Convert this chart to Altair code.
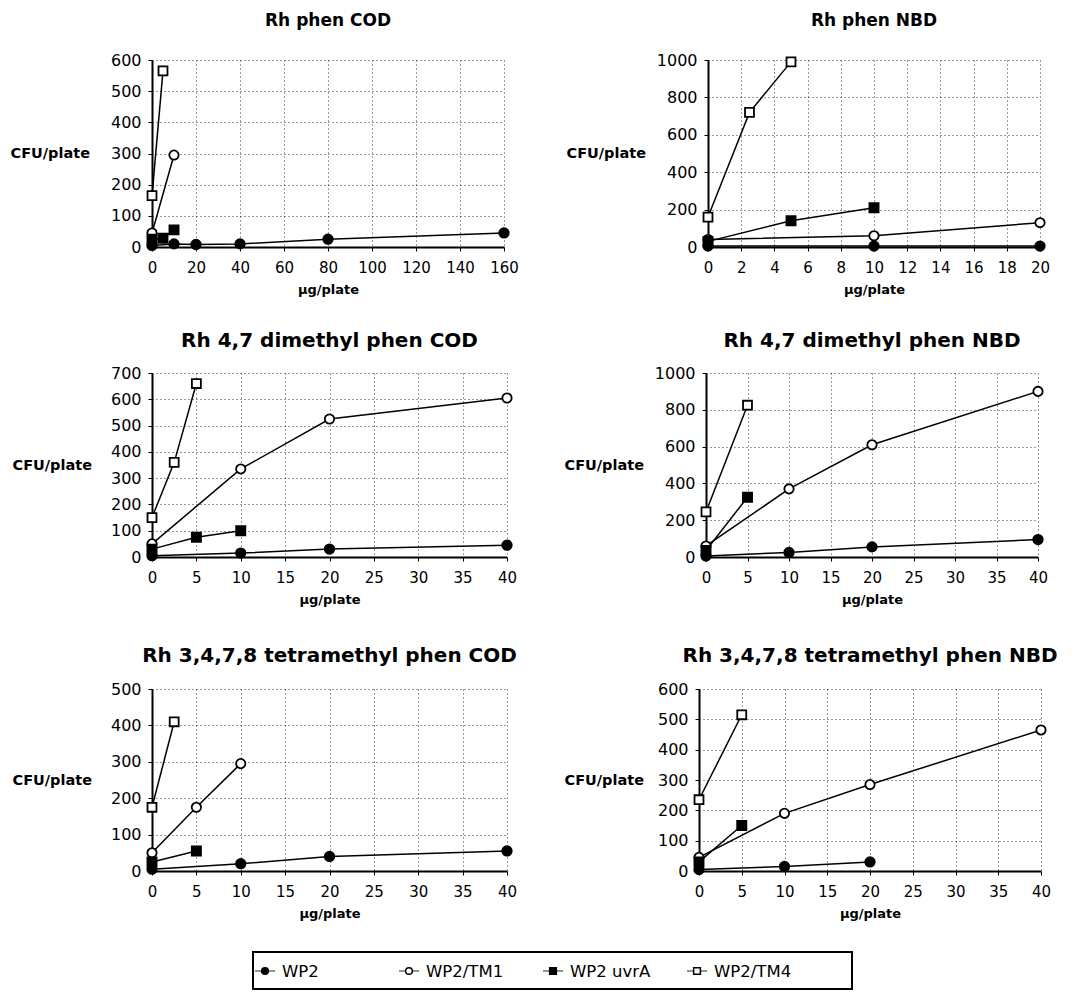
import altair as alt
import pandas as pd

strains = ["WP2", "WP2/TM1", "WP2 uvrA", "WP2/TM4"]
titles = [
    "Rh phen COD",
    "Rh phen NBD",
    "Rh 4,7 dimethyl phen COD",
    "Rh 4,7 dimethyl phen NBD",
    "Rh 3,4,7,8 tetramethyl phen COD",
    "Rh 3,4,7,8 tetramethyl phen NBD",
]

# Panel 1: Rh phen COD
p1_wp2_x = [0, 10, 20, 40, 80, 160]
p1_wp2_y = [5, 10, 8, 10, 25, 45]
p1_tm1_x = [0, 10]
p1_tm1_y = [45, 295]
p1_uvr_x = [0, 5, 10]
p1_uvr_y = [25, 28, 55]
p1_tm4_x = [0, 5]
p1_tm4_y = [165, 565]

# Panel 2: Rh phen NBD
p2_wp2_x = [0, 10, 20]
p2_wp2_y = [5, 5, 5]
p2_tm1_x = [0, 10, 20]
p2_tm1_y = [40, 60, 130]
p2_uvr_x = [0, 5, 10]
p2_uvr_y = [30, 140, 210]
p2_tm4_x = [0, 2.5, 5]
p2_tm4_y = [160, 720, 990]

# Panel 3: Rh 4,7 dimethyl phen COD
p3_wp2_x = [0, 10, 20, 40]
p3_wp2_y = [5, 15, 30, 45]
p3_tm1_x = [0, 10, 20, 40]
p3_tm1_y = [50, 335, 525, 605]
p3_uvr_x = [0, 5, 10]
p3_uvr_y = [30, 75, 100]
p3_tm4_x = [0, 2.5, 5]
p3_tm4_y = [150, 360, 660]

# Panel 4: Rh 4,7 dimethyl phen NBD
p4_wp2_x = [0, 10, 20, 40]
p4_wp2_y = [5, 25, 55, 95]
p4_tm1_x = [0, 10, 20, 40]
p4_tm1_y = [60, 370, 610, 900]
p4_uvr_x = [0, 5]
p4_uvr_y = [35, 325]
p4_tm4_x = [0, 5]
p4_tm4_y = [245, 825]

# Panel 5: Rh 3,4,7,8 tetramethyl phen COD
p5_wp2_x = [0, 10, 20, 40]
p5_wp2_y = [5, 20, 40, 55]
p5_tm1_x = [0, 5, 10]
p5_tm1_y = [50, 175, 295]
p5_uvr_x = [0, 5]
p5_uvr_y = [25, 55]
p5_tm4_x = [0, 2.5]
p5_tm4_y = [175, 410]

# Panel 6: Rh 3,4,7,8 tetramethyl phen NBD
p6_wp2_x = [0, 10, 20]
p6_wp2_y = [5, 15, 30]
p6_tm1_x = [0, 10, 20, 40]
p6_tm1_y = [45, 190, 285, 465]
p6_uvr_x = [0, 5]
p6_uvr_y = [30, 150]
p6_tm4_x = [0, 5]
p6_tm4_y = [235, 515]

x_max = [160, 20, 40, 40, 40, 40]
x_step = [20, 2, 5, 5, 5, 5]
y_max = [600, 1000, 700, 1000, 500, 600]
y_step = [100, 200, 100, 200, 100, 100]

series = [
    [(p1_wp2_x, p1_wp2_y), (p1_tm1_x, p1_tm1_y), (p1_uvr_x, p1_uvr_y), (p1_tm4_x, p1_tm4_y)],
    [(p2_wp2_x, p2_wp2_y), (p2_tm1_x, p2_tm1_y), (p2_uvr_x, p2_uvr_y), (p2_tm4_x, p2_tm4_y)],
    [(p3_wp2_x, p3_wp2_y), (p3_tm1_x, p3_tm1_y), (p3_uvr_x, p3_uvr_y), (p3_tm4_x, p3_tm4_y)],
    [(p4_wp2_x, p4_wp2_y), (p4_tm1_x, p4_tm1_y), (p4_uvr_x, p4_uvr_y), (p4_tm4_x, p4_tm4_y)],
    [(p5_wp2_x, p5_wp2_y), (p5_tm1_x, p5_tm1_y), (p5_uvr_x, p5_uvr_y), (p5_tm4_x, p5_tm4_y)],
    [(p6_wp2_x, p6_wp2_y), (p6_tm1_x, p6_tm1_y), (p6_uvr_x, p6_uvr_y), (p6_tm4_x, p6_tm4_y)],
]

# layout (plot-area sizes, y-title offsets, title sizes/offsets)
widths = [352, 332, 355, 332, 355, 342]
heights = [187, 187, 184, 184, 182, 182]
ytitle_x = [-142, -142, -140, -142, -140, -135]
title_size = [17, 17, 20, 20, 20, 20]
title_offset = [22, 22, 14, 14, 15, 15]

FONT = "DejaVu Sans"

shape_scale = alt.Scale(domain=strains, range=["circle", "circle", "square", "square"])
fill_scale = alt.Scale(domain=strains, range=["black", "white", "black", "white"])
size_scale = alt.Scale(domain=strains, range=[90, 80, 140, 130])


def panel(i):
    rows = []
    for s, (xs, ys) in zip(strains, series[i]):
        for xv, yv in zip(xs, ys):
            rows.append({"strain": s, "dose": xv, "cfu": yv})
    df = pd.DataFrame(rows)
    xticks = list(range(0, x_max[i] + 1, x_step[i]))
    yticks = list(range(0, y_max[i] + 1, y_step[i]))
    x = alt.X(
        "dose:Q",
        scale=alt.Scale(domain=[0, x_max[i]], nice=False, zero=True),
        axis=alt.Axis(values=xticks, format="d", title="µg/plate", titleFontWeight="bold",
                      titleFontSize=13, titlePadding=8, labelPadding=9,
                      labelFontSize=15, labelOverlap=False, labelFlush=False),
    )
    y = alt.Y(
        "cfu:Q",
        scale=alt.Scale(domain=[0, y_max[i]], nice=False),
        axis=alt.Axis(values=yticks, format="d", title="CFU/plate", titleAngle=0,
                      titleAlign="left", titleBaseline="middle",
                      titleX=ytitle_x[i], titleY=heights[i] / 2,
                      titleFontSize=14.5, titleFontWeight="bold", labelPadding=7,
                      labelFontSize=16, labelOverlap=False, labelFlush=False),
    )
    base = alt.Chart(df)
    lines = base.mark_line(color="black", strokeWidth=1.5).encode(
        x=x, y=y, detail="strain:N", order="dose:Q"
    )
    pts = base.mark_point(filled=False, stroke="black", strokeWidth=1.8, opacity=1).encode(
        x=x, y=y,
        shape=alt.Shape("strain:N", scale=shape_scale, legend=None),
        fill=alt.Fill("strain:N", scale=fill_scale, legend=None),
        size=alt.Size("strain:N", scale=size_scale, legend=None),
    )
    return alt.layer(lines, pts).properties(
        width=widths[i], height=heights[i],
        title=alt.TitleParams(titles[i], anchor="middle", frame="group",
                              fontSize=title_size[i], fontWeight="bold", font=FONT,
                              offset=title_offset[i]),
    )


# ---- legend strip (built from the strain list through the same scales) ----
# its origin lines up with the left edge of the first column's plot area
leg_df = pd.DataFrame({"strain": strains})
leg_x = alt.X("strain:N", sort=strains, axis=None,
              scale=alt.Scale(type="point", range=[113, 545], padding=0))
leg_base = alt.Chart(leg_df)
leg_box = alt.Chart(pd.DataFrame({"box": [0]})).mark_rect(
    fill="white", stroke="black", strokeWidth=2
).encode(x=alt.value(101), x2=alt.value(700), y=alt.value(0), y2=alt.value(37))
leg_dash = leg_base.mark_tick(orient="horizontal", size=20, thickness=1.2, color="black").encode(
    x=leg_x, y=alt.value(19)
)
leg_pts = leg_base.mark_point(filled=False, stroke="black", strokeWidth=1.5, opacity=1, size=45).encode(
    x=leg_x, y=alt.value(19),
    shape=alt.Shape("strain:N", scale=shape_scale, legend=None),
    fill=alt.Fill("strain:N", scale=fill_scale, legend=None),
)
leg_txt = leg_base.mark_text(align="left", baseline="middle", dx=17, fontSize=16.5,
                             font=FONT, color="black").encode(
    x=leg_x, y=alt.value(20), text="strain:N"
)
legend_strip = alt.layer(leg_box, leg_dash, leg_pts, leg_txt).properties(width=702, height=37)

rows = [alt.hconcat(panel(2 * r), panel(2 * r + 1), spacing=47) for r in range(3)]

top = alt.vconcat(rows[0], rows[1], spacing=35)
grid = alt.vconcat(top, rows[2], spacing=40)

chart = alt.vconcat(grid, legend_strip, spacing=31).properties(
    padding={"left": 2, "top": 4, "right": 2, "bottom": 2},
    background="white",
).configure_view(stroke=None).configure_axis(
    labelFont=FONT, titleFont=FONT, labelColor="black",
    titleColor="black", domainColor="black", domainWidth=2,
    gridColor="black", gridDash=[1, 3], gridWidth=1, gridOpacity=0.8,
    tickColor="black", tickSize=4,
)

chart.save("out.html", embed_options={"renderer": "svg", "actions": False})
